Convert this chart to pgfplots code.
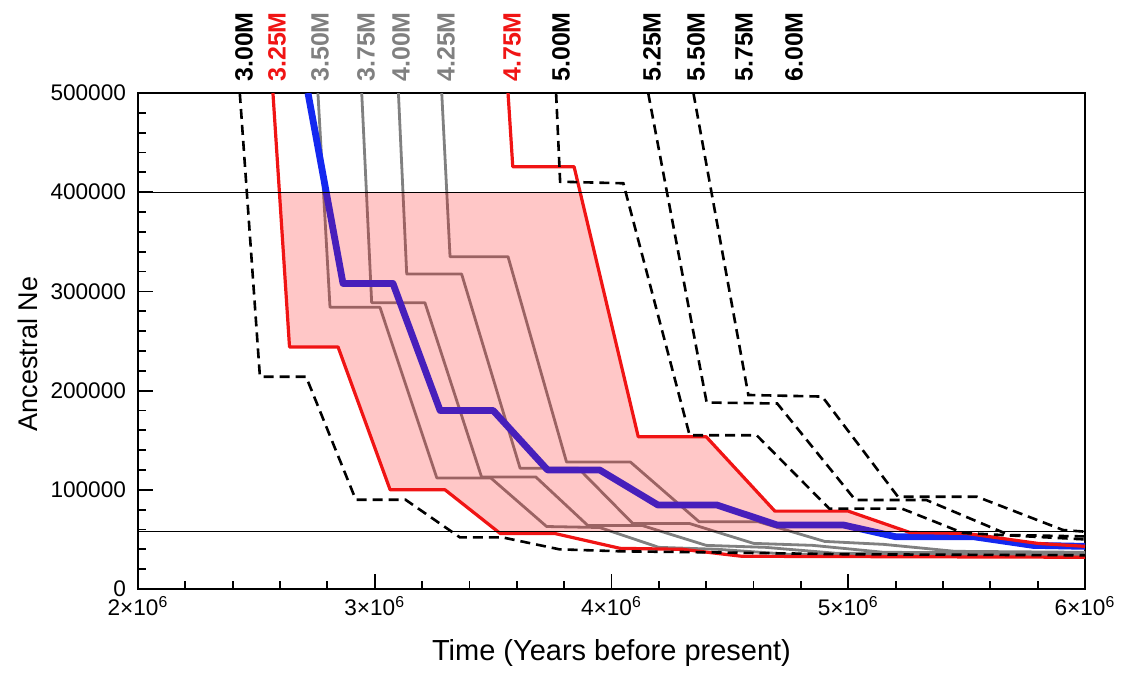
\documentclass[border=0pt]{standalone}
\usepackage{fontspec}
\setmainfont{Liberation Sans}
\usepackage{pgfplots}
\pgfplotsset{compat=1.18}
\definecolor{myred}{RGB}{240,20,20}
\definecolor{mygray}{RGB}{128,128,128}
\definecolor{myblue}{RGB}{20,40,240}
\begin{document}
\begin{tikzpicture}
\useasboundingbox (-69pt,-44pt) rectangle (493pt,294.5pt);
\begin{axis}[
  scale only axis, width=473.5pt, height=248pt,
  xmin=2e6, xmax=6e6, ymin=0, ymax=500000,
  clip mode=individual,
  axis line style={line width=1.2pt},
  xtick={2e6,3e6,4e6,5e6,6e6},
  xticklabels={2×10\textsuperscript{6},3×10\textsuperscript{6},4×10\textsuperscript{6},5×10\textsuperscript{6},6×10\textsuperscript{6}},
  ytick={0,100000,200000,300000,400000,500000},
  yticklabels={0,100000,200000,300000,400000,500000},
  minor x tick num=4, minor y tick num=4,
  xtick pos=left, ytick pos=left,
  tick align=inside,
  major tick length=7.5pt, minor tick length=4pt,
  every tick/.style={black, line width=0.9pt},
  ticklabel style={font=\fontsize{11.3}{13}\selectfont},
  yticklabel style={xshift=-2.5pt},
  scaled x ticks=false, scaled y ticks=false,
  xlabel={Time (Years before present)},
  ylabel={Ancestral Ne},
  xlabel style={font=\fontsize{14.5}{16}\selectfont, at={(axis description cs:0.5,0)}, anchor=north, yshift=-25pt, inner sep=0pt},
  ylabel style={font=\fontsize{13.5}{15}\selectfont, at={(axis description cs:-0.1056,0.474)}, anchor=south, inner sep=0pt},
]
% gray series
\addplot[mygray, line width=1.4pt, line join=round] coordinates {(2.76e6,500000) (2.811e6,284000) (3.022e6,284000) (3.262e6,112000) (3.49e6,112000) (3.726e6,63000) (3.95e6,62000) (4.2e6,42000) (4.45e6,40000) (4.75e6,35000) (6.0e6,34000)};
\addplot[mygray, line width=1.4pt, line join=round] coordinates {(2.945e6,500000) (2.987e6,288600) (3.212e6,288600) (3.451e6,113000) (3.68e6,113000) (3.90e6,64000) (4.13e6,64000) (4.4e6,44000) (4.65e6,42000) (4.95e6,36000) (6.0e6,35000)};
\addplot[mygray, line width=1.4pt, line join=round] coordinates {(3.1e6,500000) (3.135e6,317500) (3.367e6,317500) (3.614e6,121700) (3.86e6,121700) (4.09e6,66000) (4.33e6,66000) (4.6e6,46000) (4.85e6,44000) (5.15e6,37000) (6.0e6,36000)};
\addplot[mygray, line width=1.4pt, line join=round] coordinates {(3.283e6,500000) (3.318e6,335000) (3.563e6,335000) (3.81e6,128000) (4.08e6,128000) (4.37e6,67800) (4.62e6,67800) (4.9e6,48000) (5.15e6,45000) (5.45e6,38000) (6.0e6,37000)};
% blue
\addplot[myblue, line width=3.4pt, line join=round] coordinates {(2.718e6,500000) (2.866e6,308000) (3.077e6,308000) (3.276e6,180000) (3.50e6,180000) (3.73e6,120000) (3.95e6,120000) (4.196e6,84700) (4.445e6,84700) (4.70e6,64500) (4.98e6,64500) (5.2e6,52700) (5.53e6,52700) (5.78e6,44000) (6.0e6,43000)};
% shaded band
\addplot[draw=none, fill=red, fill opacity=0.22] coordinates {(2.597e6,400000) (3.868e6,400000) (4.113e6,153500) (4.40e6,153500) (4.69e6,78500) (5.0e6,78500) (5.248e6,58000) (3.519e6,58000) (3.297e6,100000) (3.065e6,100000) (2.845e6,244000) (2.64e6,244000) (2.597e6,400000)};
% red series
\addplot[myred, line width=1.6pt, line join=round] coordinates {(2.57e6,500000) (2.64e6,244000) (2.845e6,244000) (3.065e6,100000) (3.297e6,100000) (3.53e6,56000) (3.76e6,56000) (4.036e6,41000) (4.30e6,40000) (4.55e6,33000) (6.0e6,32000)};
\addplot[myred, line width=1.6pt, line join=round] coordinates {(3.563e6,500000) (3.583e6,425700) (3.842e6,425700) (4.113e6,153500) (4.40e6,153500) (4.69e6,78500) (5.0e6,78500) (5.26e6,57000) (5.5e6,56000) (5.8e6,46000) (6.0e6,43000)};
% dashed series
\addplot[black, line width=1.3pt, dash pattern=on 5pt off 3pt] coordinates {(2.43e6,500000) (2.515e6,214000) (2.71e6,214000) (2.92e6,90000) (3.13e6,90000) (3.36e6,52000) (3.54e6,52000) (3.78e6,40000) (4.04e6,38000) (4.4e6,37000) (5.0e6,35000) (6.0e6,34000)};
\addplot[black, line width=1.3pt, dash pattern=on 5pt off 3pt] coordinates {(3.766e6,500000) (3.783e6,410600) (4.05e6,409000) (4.33e6,155000) (4.613e6,155000) (4.92e6,81000) (5.227e6,81000) (5.485e6,56500) (6.0e6,50000)};
\addplot[black, line width=1.3pt, dash pattern=on 5pt off 3pt] coordinates {(4.155e6,500000) (4.402e6,188000) (4.70e6,187000) (5.03e6,89700) (5.33e6,89700) (5.68e6,54400) (6.0e6,53000)};
\addplot[black, line width=1.3pt, dash pattern=on 5pt off 3pt] coordinates {(4.346e6,500000) (4.578e6,195600) (4.89e6,194000) (5.21e6,93000) (5.544e6,93000) (5.907e6,59500) (6.0e6,57800)};
% reference lines
\addplot[black, line width=0.6pt] coordinates {(2e6,400000) (6e6,400000)};
\addplot[black, line width=0.6pt] coordinates {(2e6,58000) (6e6,58000)};
% top labels
\begin{scope}[every node/.style={rotate=90, anchor=west, inner sep=0pt, font=\bfseries\fontsize{12.5}{14}\selectfont}]
\node[text=black] at (axis cs:2.448e6,511000) {3.00M};
\node[text=myred] at (axis cs:2.587e6,511000) {3.25M};
\node[text=mygray] at (axis cs:2.769e6,511000) {3.50M};
\node[text=mygray] at (axis cs:2.963e6,511000) {3.75M};
\node[text=mygray] at (axis cs:3.111e6,511000) {4.00M};
\node[text=mygray] at (axis cs:3.301e6,511000) {4.25M};
\node[text=myred] at (axis cs:3.580e6,511000) {4.75M};
\node[text=black] at (axis cs:3.787e6,511000) {5.00M};
\node[text=black] at (axis cs:4.171e6,511000) {5.25M};
\node[text=black] at (axis cs:4.357e6,511000) {5.50M};
\node[text=black] at (axis cs:4.560e6,511000) {5.75M};
\node[text=black] at (axis cs:4.771e6,511000) {6.00M};
\end{scope}
\end{axis}
\end{tikzpicture}
\end{document}
